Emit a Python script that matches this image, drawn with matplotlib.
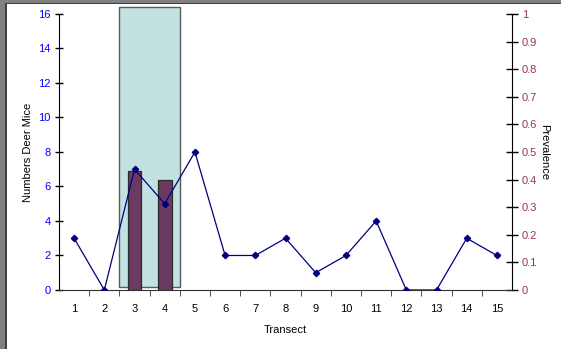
import numpy as np
import matplotlib.pyplot as plt
from matplotlib.patches import Rectangle

# data
transects = list(range(1, 16))
deer_mice = [3, 0, 7, 5, 8, 2, 2, 3, 1, 2, 4, 0, 0, 3, 2]
prev_transects = [3, 4]
prevalence = [0.43, 0.40]
highlight_x = [2.5, 4.5]      # shaded block of transects
highlight_y = [0.15, 16.4]

plt.rcParams['font.family'] = ['Liberation Sans', 'DejaVu Sans']

fig = plt.figure(figsize=(5.61, 3.49), dpi=100)
ax = fig.add_axes([0.1052, 0.1691, 0.8075, 0.7908])
ax2 = ax.twinx()

# shaded block behind the bars (lives on ax2, placed in ax's data units)
ax2.add_patch(Rectangle((highlight_x[0], highlight_y[0]),
                        highlight_x[1] - highlight_x[0],
                        highlight_y[1] - highlight_y[0],
                        transform=ax.transData,
                        facecolor='#c2e2e2', edgecolor='#5a5a5a',
                        linewidth=1.0, clip_on=False, zorder=0))

ax2.bar(prev_transects, prevalence, width=0.45, color='#6c3a61',
        edgecolor='#2a2a2a', linewidth=0.9, zorder=2)

# make line sit on top of the bars
ax.set_zorder(ax2.get_zorder() + 1)
ax.patch.set_visible(False)
ax.plot(transects, deer_mice, color='#000080', linewidth=0.9,
        marker='D', markersize=3.2, zorder=3)

ax.set_xlim(0.5, 15.5)
ax.set_ylim(0, 16)
ax2.set_ylim(0, 1)

ax.set_yticks(np.arange(0, 17, 2))
ax2.set_yticks(np.arange(0, 1.01, 0.1))
ax2.set_yticklabels(['0', '0.1', '0.2', '0.3', '0.4', '0.5', '0.6',
                     '0.7', '0.8', '0.9', '1'])
ax.set_xticks(transects)
ax.set_xticks(np.arange(1.5, 15, 1), minor=True)

ax.tick_params(axis='x', which='major', length=0, pad=10, labelsize=8,
               labelcolor='black')
ax.tick_params(axis='x', which='minor', length=4, direction='out',
               color='#333333')
ax.tick_params(axis='y', direction='inout', length=6, width=1,
               labelsize=8, labelcolor='#0000ff', pad=3)
ax2.tick_params(axis='y', direction='inout', length=8, width=1,
                labelsize=8, labelcolor='#993366', pad=3)

for a in (ax, ax2):
    a.spines['top'].set_visible(False)
ax.spines['right'].set_visible(False)
ax.spines['bottom'].set_color('#333333')
ax2.spines['bottom'].set_visible(False)
ax2.spines['left'].set_visible(False)

ax.set_xlabel('Transect', fontsize=8, labelpad=8)
ax.set_ylabel('Numbers Deer Mice', fontsize=8, labelpad=4)
ax2.set_ylabel('Prevalence', fontsize=8, rotation=-90, labelpad=9)

# grey window frame on the left and top edges
W, H = 561.0, 349.0
fig.add_artist(Rectangle((0, 0), 5 / W, 1, transform=fig.transFigure,
                         facecolor='#808080', edgecolor='none'))
fig.add_artist(Rectangle((5 / W, 0), 1.5 / W, 1, transform=fig.transFigure,
                         facecolor='#404040', edgecolor='none'))
fig.add_artist(Rectangle((0, 1 - 3 / H), 1, 3 / H, transform=fig.transFigure,
                         facecolor='#808080', edgecolor='none'))
fig.add_artist(Rectangle((5 / W, 1 - 4 / H), 1, 1.2 / H,
                         transform=fig.transFigure,
                         facecolor='#404040', edgecolor='none'))

fig.savefig('out.png', dpi=100)
